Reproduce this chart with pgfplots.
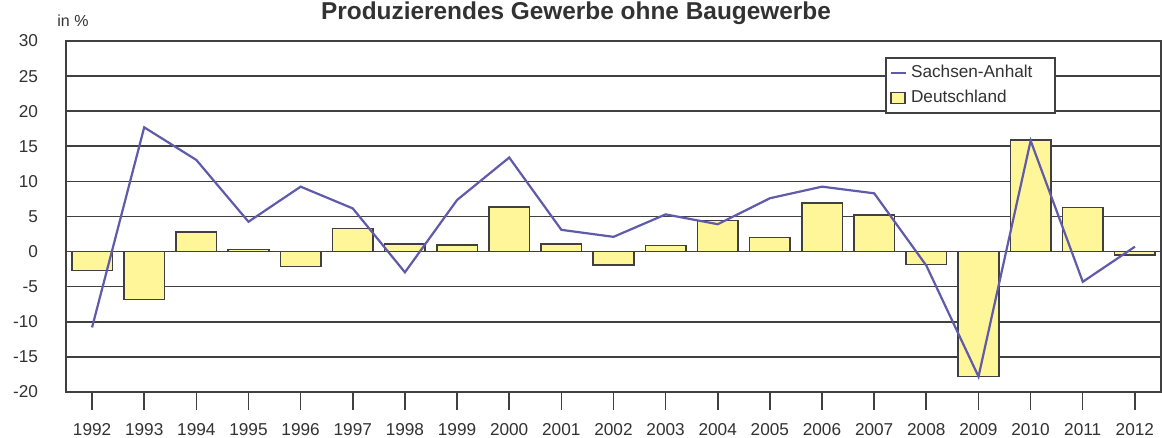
\documentclass[border=0pt]{standalone}
\usepackage{pgfplots}
\pgfplotsset{compat=1.18}
\usepackage{fontspec}
\setmainfont{Liberation Sans}
\definecolor{barfill}{RGB}{255,245,153}
\definecolor{linec}{RGB}{95,90,170}
\definecolor{gridc}{RGB}{64,64,64}
\definecolor{txt}{RGB}{50,50,50}
\pgfplotsset{
  barleg/.style={legend image code/.code={\draw[##1, line width=0.8pt] (0pt,-2.75pt) rectangle (7pt,2.75pt);}},
  lineleg/.style={legend image code/.code={\draw[##1] (0pt,0pt) -- (7.5pt,0pt);}},
}
\begin{document}
\begin{tikzpicture}
\begin{axis}[
  name=ax,
  scale only axis,
  width=547.5pt, height=175.5pt,
  xmin=1991.5, xmax=2012.5,
  ymin=-20, ymax=30,
  xtick={1992,...,2012},
  ytick={-20,-15,...,30},
  ymajorgrids,
  grid style={gridc, line width=0.8pt},
  axis line style={gridc, line width=0.8pt},
  tick align=outside,
  xtick pos=bottom,
  major tick length=9pt,
  x tick style={gridc, line width=0.8pt},
  y tick style={draw=none},
  tick label style={font=\fontsize{8.6}{10}\selectfont, text=txt},
  /pgf/number format/assume math mode=true,
  xticklabel style={/pgf/number format/1000 sep={}, yshift=-3pt},
  yticklabel style={xshift=-1.5pt},
  legend style={at={(0.748,0.954)}, anchor=north west, draw=gridc, line width=0.8pt,
    font=\fontsize{8.6}{10}\selectfont, text=txt, inner xsep=2pt, inner ysep=1.5pt, row sep=1pt},
  legend cell align=left,
  reverse legend,
]
\addplot[ybar, bar width=0.78, fill=barfill, draw=gridc, line width=0.8pt, barleg] coordinates {
(1992,-2.7) (1993,-6.8) (1994,2.75) (1995,0.3) (1996,-2.1) (1997,3.3) (1998,1.1)
(1999,0.9) (2000,6.35) (2001,1.1) (2002,-1.9) (2003,0.85) (2004,4.45) (2005,2.0)
(2006,6.9) (2007,5.2) (2008,-1.85) (2009,-17.8) (2010,15.9) (2011,6.3) (2012,-0.5)};
\addlegendentry{Deutschland}
\addplot[linec, line width=1.1pt, mark=none, lineleg] coordinates {
(1992,-10.8) (1993,17.7) (1994,13.05) (1995,4.25) (1996,9.25) (1997,6.15) (1998,-2.95)
(1999,7.35) (2000,13.4) (2001,3.1) (2002,2.1) (2003,5.3) (2004,3.9) (2005,7.6)
(2006,9.25) (2007,8.3) (2008,-2.0) (2009,-17.8) (2010,15.8) (2011,-4.3) (2012,0.7)};
\addlegendentry{\makebox[68pt][l]{Sachsen-Anhalt}}
\end{axis}
\node[anchor=base west, inner sep=0pt, font=\fontsize{8}{9}\selectfont, text=txt] at ([shift={(-4.5pt,182.5pt)}]ax.south west) {in \%};
\node[anchor=base, inner sep=0pt, font=\fontsize{12.2}{14}\selectfont\bfseries, text=txt] at ([shift={(255pt,186.3pt)}]ax.south west) {Produzierendes Gewerbe ohne Baugewerbe};
\pgfresetboundingbox
\path[use as bounding box] ([shift={(-33pt,-23pt)}]ax.south west) rectangle ([shift={(548pt,196pt)}]ax.south west);
\end{tikzpicture}
\end{document}
